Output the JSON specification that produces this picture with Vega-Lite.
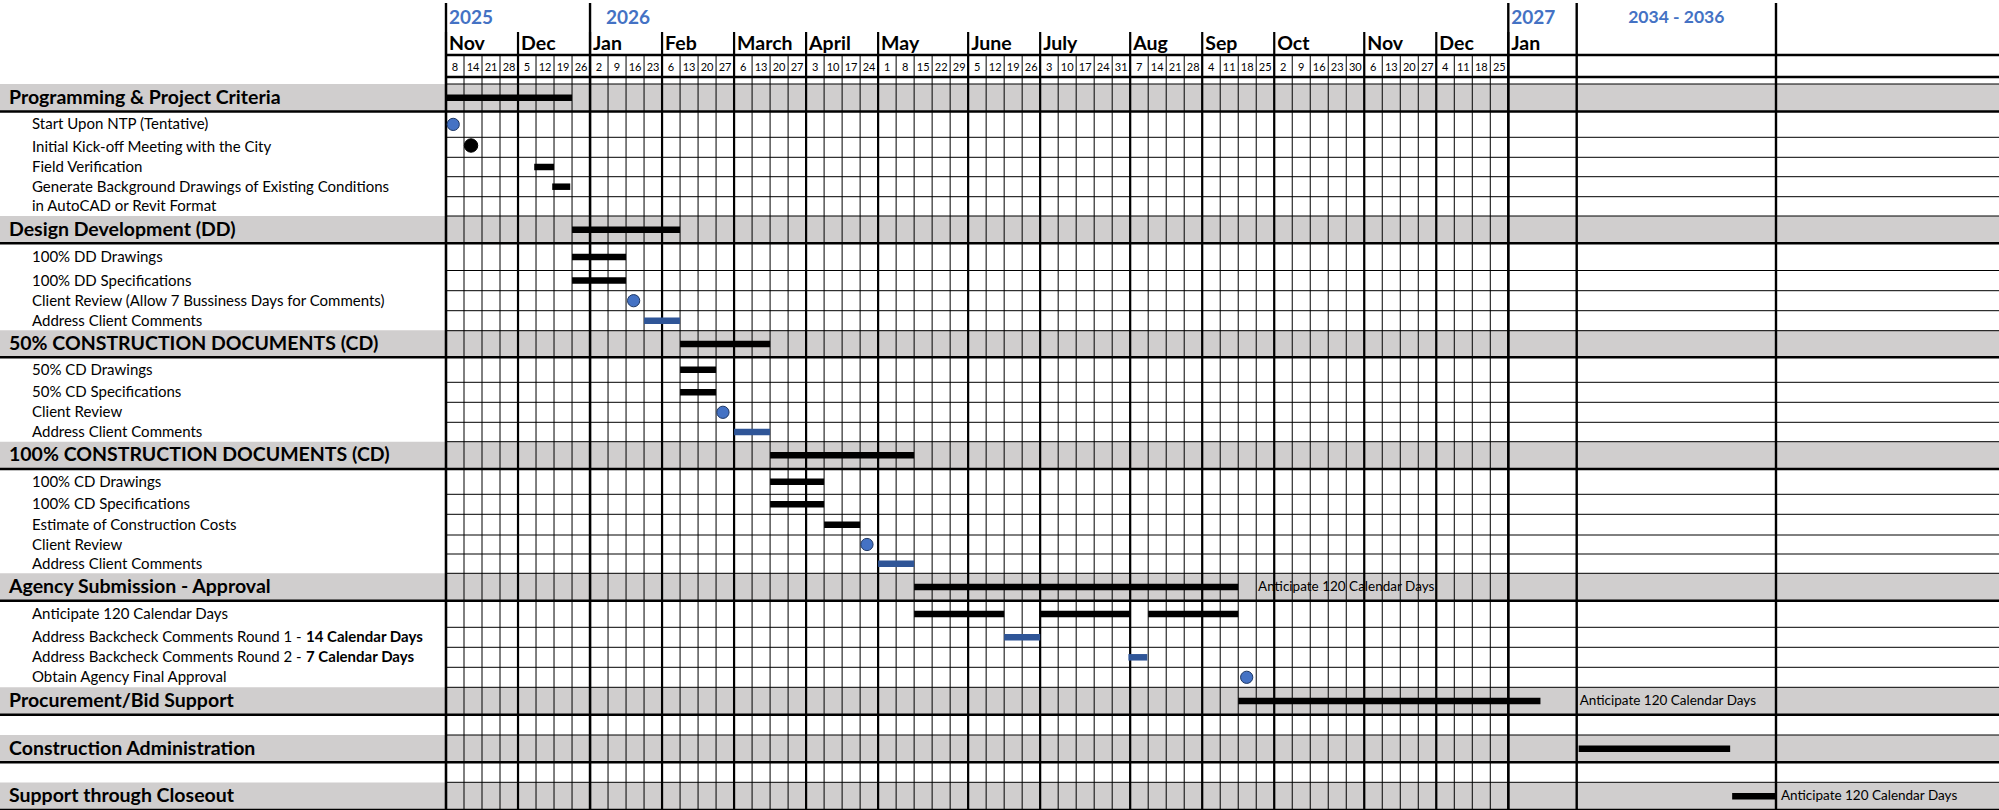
{
  "$schema": "https://vega.github.io/schema/vega-lite/v6.json",
  "width": 1999,
  "height": 810,
  "padding": 0,
  "autosize": {"type": "none"},
  "background": "white",
  "config": {"view": {"stroke": null}, "axis": {"disable": true}, "legend": {"disable": true}, "font": "Lato"},
  "resolve": {"scale": {"y": "independent"}},
  "datasets": {
    "weeks": [{"i":0,"w":"8"},{"i":1,"w":"14"},{"i":2,"w":"21"},{"i":3,"w":"28"},{"i":4,"w":"5"},{"i":5,"w":"12"},{"i":6,"w":"19"},{"i":7,"w":"26"},{"i":8,"w":"2"},{"i":9,"w":"9"},{"i":10,"w":"16"},{"i":11,"w":"23"},{"i":12,"w":"6"},{"i":13,"w":"13"},{"i":14,"w":"20"},{"i":15,"w":"27"},{"i":16,"w":"6"},{"i":17,"w":"13"},{"i":18,"w":"20"},{"i":19,"w":"27"},{"i":20,"w":"3"},{"i":21,"w":"10"},{"i":22,"w":"17"},{"i":23,"w":"24"},{"i":24,"w":"1"},{"i":25,"w":"8"},{"i":26,"w":"15"},{"i":27,"w":"22"},{"i":28,"w":"29"},{"i":29,"w":"5"},{"i":30,"w":"12"},{"i":31,"w":"19"},{"i":32,"w":"26"},{"i":33,"w":"3"},{"i":34,"w":"10"},{"i":35,"w":"17"},{"i":36,"w":"24"},{"i":37,"w":"31"},{"i":38,"w":"7"},{"i":39,"w":"14"},{"i":40,"w":"21"},{"i":41,"w":"28"},{"i":42,"w":"4"},{"i":43,"w":"11"},{"i":44,"w":"18"},{"i":45,"w":"25"},{"i":46,"w":"2"},{"i":47,"w":"9"},{"i":48,"w":"16"},{"i":49,"w":"23"},{"i":50,"w":"30"},{"i":51,"w":"6"},{"i":52,"w":"13"},{"i":53,"w":"20"},{"i":54,"w":"27"},{"i":55,"w":"4"},{"i":56,"w":"11"},{"i":57,"w":"18"},{"i":58,"w":"25"}],
    "months": [{"start":0,"m":"Nov"},{"start":4,"m":"Dec"},{"start":8,"m":"Jan"},{"start":12,"m":"Feb"},{"start":16,"m":"March"},{"start":20,"m":"April"},{"start":24,"m":"May"},{"start":29,"m":"June"},{"start":33,"m":"July"},{"start":38,"m":"Aug"},{"start":42,"m":"Sep"},{"start":46,"m":"Oct"},{"start":51,"m":"Nov"},{"start":55,"m":"Dec"},{"start":59,"m":"Jan"}],
    "years": [{"start":0,"y":"2025"},{"start":8,"y":"2026"},{"start":59,"y":"2027"},{"start":60,"y":"2034 - 2036"},{"start":61,"y":""}],
    "rows": [
      {"row":1,"level":"year"},{"row":2,"level":"month"},{"row":3,"level":"week"},{"row":4,"level":"spacer"},
      {"row":5,"level":"section","label":"Programming & Project Criteria"},
      {"row":6,"level":"task","label":"Start Upon NTP (Tentative)"},
      {"row":7,"level":"task","label":"Initial Kick-off Meeting with the City"},
      {"row":8,"level":"task","label":"Field Verification"},
      {"row":9,"level":"task","label":"Generate Background Drawings of Existing Conditions"},
      {"row":10,"level":"task","label":"in AutoCAD or Revit Format"},
      {"row":11,"level":"section","label":"Design Development (DD)"},
      {"row":12,"level":"task","label":"100% DD Drawings"},
      {"row":13,"level":"task","label":"100% DD Specifications"},
      {"row":14,"level":"task","label":"Client Review (Allow 7 Bussiness Days for Comments)"},
      {"row":15,"level":"task","label":"Address Client Comments"},
      {"row":16,"level":"section","label":"50% CONSTRUCTION DOCUMENTS (CD)"},
      {"row":17,"level":"task","label":"50% CD Drawings"},
      {"row":18,"level":"task","label":"50% CD Specifications"},
      {"row":19,"level":"task","label":"Client Review"},
      {"row":20,"level":"task","label":"Address Client Comments"},
      {"row":21,"level":"section","label":"100% CONSTRUCTION DOCUMENTS (CD)"},
      {"row":22,"level":"task","label":"100% CD Drawings"},
      {"row":23,"level":"task","label":"100% CD Specifications"},
      {"row":24,"level":"task","label":"Estimate of Construction Costs"},
      {"row":25,"level":"task","label":"Client Review"},
      {"row":26,"level":"task","label":"Address Client Comments"},
      {"row":27,"level":"section","label":"Agency Submission - Approval"},
      {"row":28,"level":"task","label":"Anticipate 120 Calendar Days"},
      {"row":29,"level":"task","label":"Address Backcheck Comments Round 1 -"},
      {"row":30,"level":"task","label":"Address Backcheck Comments Round 2 -"},
      {"row":31,"level":"task","label":"Obtain Agency Final Approval"},
      {"row":32,"level":"section","label":"Procurement/Bid Support"},
      {"row":33,"level":"blank","label":""},
      {"row":34,"level":"section","label":"Construction Administration"},
      {"row":35,"level":"blank","label":""},
      {"row":36,"level":"section","label":"Support through Closeout"}
    ],
    "tasks": [
      {"row":5,"start":0,"end":7,"kind":"work"},
      {"row":8,"start":4.9,"end":6,"kind":"work"},
      {"row":9,"start":5.9,"end":6.9,"kind":"work"},
      {"row":11,"start":7,"end":13,"kind":"work"},
      {"row":12,"start":7,"end":10,"kind":"work"},
      {"row":13,"start":7,"end":10,"kind":"work"},
      {"row":15,"start":11,"end":13,"kind":"revision"},
      {"row":16,"start":13,"end":18,"kind":"work"},
      {"row":17,"start":13,"end":15,"kind":"work"},
      {"row":18,"start":13,"end":15,"kind":"work"},
      {"row":20,"start":16,"end":18,"kind":"revision"},
      {"row":21,"start":18,"end":26,"kind":"work"},
      {"row":22,"start":18,"end":21,"kind":"work"},
      {"row":23,"start":18,"end":21,"kind":"work"},
      {"row":24,"start":21,"end":23,"kind":"work"},
      {"row":26,"start":24,"end":26,"kind":"revision"},
      {"row":27,"start":26,"end":44,"kind":"work"},
      {"row":28,"start":26,"end":31,"kind":"work"},
      {"row":28,"start":33,"end":38,"kind":"work"},
      {"row":28,"start":39,"end":44,"kind":"work"},
      {"row":29,"start":31,"end":33,"kind":"revision"},
      {"row":30,"start":37.9,"end":38.95,"kind":"revision"},
      {"row":32,"start":44,"end":59.47,"kind":"work"},
      {"row":34,"start":60.01,"end":60.77,"kind":"work"},
      {"row":36,"start":60.78,"end":61,"kind":"work"}
    ],
    "milestones": [
      {"row":6,"at":0.4,"kind":"review"},
      {"row":7,"at":1.39,"kind":"meeting"},
      {"row":14,"at":10.42,"kind":"review"},
      {"row":19,"at":15.38,"kind":"review"},
      {"row":25,"at":23.38,"kind":"review"},
      {"row":31,"at":44.47,"kind":"review"}
    ],
    "notes": [
      {"row":27,"at":45.1,"note":"Anticipate 120 Calendar Days"},
      {"row":32,"at":60.015,"note":"Anticipate 120 Calendar Days"},
      {"row":36,"at":61.022,"note":"Anticipate 120 Calendar Days"}
    ],
    "emph": [
      {"row":29,"text":"14 Calendar Days"},
      {"row":30,"text":"7 Calendar Days"}
    ]
  },
  "layer": [
    {
      "data": {"name": "rows"},
      "transform": [{"filter": "datum.level === 'section'"}],
      "mark": {"type": "rule", "color": "#D0CECE", "strokeWidth": 27.4},
      "encoding": {
        "x": {"datum": -1, "type": "quantitative", "scale": {"domain": [-1,0,59,60,61,62], "range": [0,446,1508.3,1576.7,1776,1999], "nice": false, "zero": false}},
        "x2": {"datum": 62},
        "y": {"field": "row", "type": "quantitative", "scale": {"domain": [1,2,3,4,5,6,7,8,9,10,11,12,13,14,15,16,17,18,19,20,21,22,23,24,25,26,27,28,29,30,31,32,33,34,35,36], "range": [17.5,43.5,66,80.5,97.75,124.4,147.3,167,186.7,206.35,229.65,256.9,280.6,300.7,320.7,344,369.8,392.3,412.3,432,455.35,481.65,504.3,524.65,544.5,563.65,587,614,637.3,657.3,677.3,701,724.85,748.65,772.3,796.15], "nice": false, "zero": false}}
      }
    },
    {
      "data": {"name": "weeks"},
      "transform": [{"filter": "datum.i > 0"}],
      "mark": {"type": "rule", "color": "#000000", "strokeWidth": 1},
      "encoding": {
        "x": {"field": "i", "type": "quantitative", "scale": {"domain": [-1,0,59,60,61,62], "range": [0,446,1508.3,1576.7,1776,1999], "nice": false, "zero": false}},
        "y": {"datum": 2, "type": "quantitative", "scale": {"domain": [0,1,2,3,4,5,6,7,8,9,10,11,12,13,14,15,16,17,18,19,20,21,22,23,24,25,26,27,28,29,30,31,32,33,34,35,36], "range": [3,32,55,77,84,111.5,137.3,157.3,176.7,196.7,216,243.3,270.5,290.7,310.7,330.7,357.3,382.3,402.3,422.3,441.7,469,494.3,514.3,535,554,573.3,600.7,627.3,647.3,667.3,687.3,714.7,735,762.3,782.3,810], "nice": false, "zero": false}},
        "y2": {"datum": 36}
      }
    },
    {
      "data": {"name": "rows"},
      "transform": [{"filter": "datum.level === 'spacer' || datum.level === 'task' || datum.level === 'blank'"}],
      "mark": {"type": "rule", "color": "#000000", "strokeWidth": 1},
      "encoding": {
        "x": {"datum": 0, "type": "quantitative", "scale": {"domain": [-1,0,59,60,61,62], "range": [0,446,1508.3,1576.7,1776,1999], "nice": false, "zero": false}},
        "x2": {"datum": 62},
        "y": {"field": "row", "type": "quantitative", "scale": {"domain": [0,1,2,3,4,5,6,7,8,9,10,11,12,13,14,15,16,17,18,19,20,21,22,23,24,25,26,27,28,29,30,31,32,33,34,35,36], "range": [3,32,55,77,84,111.5,137.3,157.3,176.7,196.7,216,243.3,270.5,290.7,310.7,330.7,357.3,382.3,402.3,422.3,441.7,469,494.3,514.3,535,554,573.3,600.7,627.3,647.3,667.3,687.3,714.7,735,762.3,782.3,810], "nice": false, "zero": false}}
      }
    },
    {
      "data": {"name": "months"},
      "mark": {"type": "rule", "color": "#000000", "strokeWidth": 2.2},
      "encoding": {
        "x": {"field": "start", "type": "quantitative", "scale": {"domain": [-1,0,59,60,61,62], "range": [0,446,1508.3,1576.7,1776,1999], "nice": false, "zero": false}},
        "y": {"datum": 1, "type": "quantitative", "scale": {"domain": [0,1,2,3,4,5,6,7,8,9,10,11,12,13,14,15,16,17,18,19,20,21,22,23,24,25,26,27,28,29,30,31,32,33,34,35,36], "range": [3,32,55,77,84,111.5,137.3,157.3,176.7,196.7,216,243.3,270.5,290.7,310.7,330.7,357.3,382.3,402.3,422.3,441.7,469,494.3,514.3,535,554,573.3,600.7,627.3,647.3,667.3,687.3,714.7,735,762.3,782.3,810], "nice": false, "zero": false}},
        "y2": {"datum": 36}
      }
    },
    {
      "data": {"name": "years"},
      "mark": {"type": "rule", "color": "#000000", "strokeWidth": 2.4},
      "encoding": {
        "x": {"field": "start", "type": "quantitative", "scale": {"domain": [-1,0,59,60,61,62], "range": [0,446,1508.3,1576.7,1776,1999], "nice": false, "zero": false}},
        "y": {"datum": 0, "type": "quantitative", "scale": {"domain": [0,1,2,3,4,5,6,7,8,9,10,11,12,13,14,15,16,17,18,19,20,21,22,23,24,25,26,27,28,29,30,31,32,33,34,35,36], "range": [3,32,55,77,84,111.5,137.3,157.3,176.7,196.7,216,243.3,270.5,290.7,310.7,330.7,357.3,382.3,402.3,422.3,441.7,469,494.3,514.3,535,554,573.3,600.7,627.3,647.3,667.3,687.3,714.7,735,762.3,782.3,810], "nice": false, "zero": false}},
        "y2": {"datum": 36}
      }
    },
    {
      "data": {"name": "rows"},
      "transform": [{"filter": "datum.level === 'month' || datum.level === 'week'"}],
      "mark": {"type": "rule", "color": "#000000", "strokeWidth": 2.4},
      "encoding": {
        "x": {"datum": 0, "type": "quantitative", "scale": {"domain": [-1,0,59,60,61,62], "range": [0,446,1508.3,1576.7,1776,1999], "nice": false, "zero": false}},
        "x2": {"datum": 62},
        "y": {"field": "row", "type": "quantitative", "scale": {"domain": [0,1,2,3,4,5,6,7,8,9,10,11,12,13,14,15,16,17,18,19,20,21,22,23,24,25,26,27,28,29,30,31,32,33,34,35,36], "range": [3,32,55,77,84,111.5,137.3,157.3,176.7,196.7,216,243.3,270.5,290.7,310.7,330.7,357.3,382.3,402.3,422.3,441.7,469,494.3,514.3,535,554,573.3,600.7,627.3,647.3,667.3,687.3,714.7,735,762.3,782.3,810], "nice": false, "zero": false}}
      }
    },
    {
      "mark": {"type": "rule", "color": "#000000", "strokeWidth": 2.4},
      "encoding": {
        "x": {"datum": 0, "type": "quantitative", "scale": {"domain": [-1,0,59,60,61,62], "range": [0,446,1508.3,1576.7,1776,1999], "nice": false, "zero": false}},
        "x2": {"datum": 62},
        "y": {"datum": 0, "type": "quantitative", "scale": {"domain": [0,1,2,3,4,5,6,7,8,9,10,11,12,13,14,15,16,17,18,19,20,21,22,23,24,25,26,27,28,29,30,31,32,33,34,35,36], "range": [3,32,55,77,84,111.5,137.3,157.3,176.7,196.7,216,243.3,270.5,290.7,310.7,330.7,357.3,382.3,402.3,422.3,441.7,469,494.3,514.3,535,554,573.3,600.7,627.3,647.3,667.3,687.3,714.7,735,762.3,782.3,810], "nice": false, "zero": false}}
      }
    },
    {
      "data": {"name": "rows"},
      "transform": [{"filter": "datum.level === 'section'"}],
      "mark": {"type": "rule", "color": "#000000", "strokeWidth": 2.6},
      "encoding": {
        "x": {"datum": -1, "type": "quantitative", "scale": {"domain": [-1,0,59,60,61,62], "range": [0,446,1508.3,1576.7,1776,1999], "nice": false, "zero": false}},
        "x2": {"datum": 62},
        "y": {"field": "row", "type": "quantitative", "scale": {"domain": [0,1,2,3,4,5,6,7,8,9,10,11,12,13,14,15,16,17,18,19,20,21,22,23,24,25,26,27,28,29,30,31,32,33,34,35,36], "range": [3,32,55,77,84,111.5,137.3,157.3,176.7,196.7,216,243.3,270.5,290.7,310.7,330.7,357.3,382.3,402.3,422.3,441.7,469,494.3,514.3,535,554,573.3,600.7,627.3,647.3,667.3,687.3,714.7,735,762.3,782.3,810], "nice": false, "zero": false}}
      }
    },
    {
      "mark": {"type": "rule", "color": "#000000", "strokeWidth": 4},
      "encoding": {
        "x": {"datum": -1, "type": "quantitative", "scale": {"domain": [-1,0,59,60,61,62], "range": [0,446,1508.3,1576.7,1776,1999], "nice": false, "zero": false}},
        "y": {"datum": 4, "type": "quantitative", "scale": {"domain": [0,1,2,3,4,5,6,7,8,9,10,11,12,13,14,15,16,17,18,19,20,21,22,23,24,25,26,27,28,29,30,31,32,33,34,35,36], "range": [3,32,55,77,84,111.5,137.3,157.3,176.7,196.7,216,243.3,270.5,290.7,310.7,330.7,357.3,382.3,402.3,422.3,441.7,469,494.3,514.3,535,554,573.3,600.7,627.3,647.3,667.3,687.3,714.7,735,762.3,782.3,810], "nice": false, "zero": false}},
        "y2": {"datum": 36}
      }
    },
    {
      "data": {"name": "tasks"},
      "mark": {"type": "rule", "strokeWidth": 6.5},
      "encoding": {
        "x": {"field": "start", "type": "quantitative", "scale": {"domain": [-1,0,59,60,61,62], "range": [0,446,1508.3,1576.7,1776,1999], "nice": false, "zero": false}},
        "x2": {"field": "end"},
        "y": {"field": "row", "type": "quantitative", "scale": {"domain": [1,2,3,4,5,6,7,8,9,10,11,12,13,14,15,16,17,18,19,20,21,22,23,24,25,26,27,28,29,30,31,32,33,34,35,36], "range": [17.5,43.5,66,80.5,97.75,124.4,147.3,167,186.7,206.35,229.65,256.9,280.6,300.7,320.7,344,369.8,392.3,412.3,432,455.35,481.65,504.3,524.65,544.5,563.65,587,614,637.3,657.3,677.3,701,724.85,748.65,772.3,796.15], "nice": false, "zero": false}},
        "color": {"field": "kind", "type": "nominal", "scale": {"domain": ["work","revision","review","meeting"], "range": ["#000000","#2F5597","#4472C4","#000000"]}}
      }
    },
    {
      "data": {"name": "milestones"},
      "transform": [{"filter": "datum.kind === 'review'"}],
      "mark": {"type": "point", "shape": "circle", "filled": true, "opacity": 1, "size": 150, "stroke": "#1F3864", "strokeWidth": 1},
      "encoding": {
        "x": {"field": "at", "type": "quantitative", "scale": {"domain": [-1,0,59,60,61,62], "range": [0,446,1508.3,1576.7,1776,1999], "nice": false, "zero": false}},
        "y": {"field": "row", "type": "quantitative", "scale": {"domain": [1,2,3,4,5,6,7,8,9,10,11,12,13,14,15,16,17,18,19,20,21,22,23,24,25,26,27,28,29,30,31,32,33,34,35,36], "range": [17.5,43.5,66,80.5,97.75,124.4,147.3,167,186.7,206.35,229.65,256.9,280.6,300.7,320.7,344,369.8,392.3,412.3,432,455.35,481.65,504.3,524.65,544.5,563.65,587,614,637.3,657.3,677.3,701,724.85,748.65,772.3,796.15], "nice": false, "zero": false}},
        "color": {"field": "kind", "type": "nominal", "scale": {"domain": ["work","revision","review","meeting"], "range": ["#000000","#2F5597","#4472C4","#000000"]}}
      }
    },
    {
      "data": {"name": "milestones"},
      "transform": [{"filter": "datum.kind === 'meeting'"}],
      "mark": {"type": "point", "shape": "circle", "filled": true, "opacity": 1, "size": 180, "stroke": "#000000", "strokeWidth": 1},
      "encoding": {
        "x": {"field": "at", "type": "quantitative", "scale": {"domain": [-1,0,59,60,61,62], "range": [0,446,1508.3,1576.7,1776,1999], "nice": false, "zero": false}},
        "y": {"field": "row", "type": "quantitative", "scale": {"domain": [1,2,3,4,5,6,7,8,9,10,11,12,13,14,15,16,17,18,19,20,21,22,23,24,25,26,27,28,29,30,31,32,33,34,35,36], "range": [17.5,43.5,66,80.5,97.75,124.4,145.5,167,186.7,206.35,229.65,256.9,280.6,300.7,320.7,344,369.8,392.3,412.3,432,455.35,481.65,504.3,524.65,544.5,563.65,587,614,637.3,657.3,677.3,701,724.85,748.65,772.3,796.15], "nice": false, "zero": false}},
        "color": {"field": "kind", "type": "nominal", "scale": {"domain": ["work","revision","review","meeting"], "range": ["#000000","#2F5597","#4472C4","#000000"]}}
      }
    },
    {
      "data": {"name": "rows"},
      "transform": [{"filter": "datum.level === 'section'"}],
      "mark": {"type": "text", "align": "left", "baseline": "middle", "dx": 9, "fontSize": 19.5, "fontWeight": "bold", "color": "#000000"},
      "encoding": {
        "x": {"datum": -1, "type": "quantitative", "scale": {"domain": [-1,0,59,60,61,62], "range": [0,446,1508.3,1576.7,1776,1999], "nice": false, "zero": false}},
        "y": {"field": "row", "type": "quantitative", "scale": {"domain": [1,2,3,4,5,6,7,8,9,10,11,12,13,14,15,16,17,18,19,20,21,22,23,24,25,26,27,28,29,30,31,32,33,34,35,36], "range": [17.5,43.5,66,80.5,97.75,124.4,147.3,167,186.7,206.35,229.65,256.9,280.6,300.7,320.7,344,369.8,392.3,412.3,432,455.35,481.65,504.3,524.65,544.5,563.65,587,614,637.3,657.3,677.3,701,724.85,748.65,772.3,796.15], "nice": false, "zero": false}},
        "text": {"field": "label"}
      }
    },
    {
      "data": {"name": "rows"},
      "transform": [{"filter": "datum.level === 'task'"}],
      "mark": {"type": "text", "align": "left", "baseline": "middle", "dx": 32, "fontSize": 15, "color": "#000000"},
      "encoding": {
        "x": {"datum": -1, "type": "quantitative", "scale": {"domain": [-1,0,59,60,61,62], "range": [0,446,1508.3,1576.7,1776,1999], "nice": false, "zero": false}},
        "y": {"field": "row", "type": "quantitative", "scale": {"domain": [1,2,3,4,5,6,7,8,9,10,11,12,13,14,15,16,17,18,19,20,21,22,23,24,25,26,27,28,29,30,31,32,33,34,35,36], "range": [17.5,43.5,66,80.5,97.75,124.4,147.3,167,186.7,206.35,229.65,256.9,280.6,300.7,320.7,344,369.8,392.3,412.3,432,455.35,481.65,504.3,524.65,544.5,563.65,587,614,637.3,657.3,677.3,701,724.85,748.65,772.3,796.15], "nice": false, "zero": false}},
        "text": {"field": "label"}
      }
    },
    {
      "data": {"name": "emph"},
      "mark": {"type": "text", "align": "left", "baseline": "middle", "dx": 306, "fontSize": 15, "fontWeight": "bold", "color": "#000000"},
      "encoding": {
        "x": {"datum": -1, "type": "quantitative", "scale": {"domain": [-1,0,59,60,61,62], "range": [0,446,1508.3,1576.7,1776,1999], "nice": false, "zero": false}},
        "y": {"field": "row", "type": "quantitative", "scale": {"domain": [1,2,3,4,5,6,7,8,9,10,11,12,13,14,15,16,17,18,19,20,21,22,23,24,25,26,27,28,29,30,31,32,33,34,35,36], "range": [17.5,43.5,66,80.5,97.75,124.4,147.3,167,186.7,206.35,229.65,256.9,280.6,300.7,320.7,344,369.8,392.3,412.3,432,455.35,481.65,504.3,524.65,544.5,563.65,587,614,637.3,657.3,677.3,701,724.85,748.65,772.3,796.15], "nice": false, "zero": false}},
        "text": {"field": "text"}
      }
    },
    {
      "data": {"name": "notes"},
      "mark": {"type": "text", "align": "left", "baseline": "middle", "fontSize": 13.5, "color": "#000000"},
      "encoding": {
        "x": {"field": "at", "type": "quantitative", "scale": {"domain": [-1,0,59,60,61,62], "range": [0,446,1508.3,1576.7,1776,1999], "nice": false, "zero": false}},
        "y": {"field": "row", "type": "quantitative", "scale": {"domain": [1,2,3,4,5,6,7,8,9,10,11,12,13,14,15,16,17,18,19,20,21,22,23,24,25,26,27,28,29,30,31,32,33,34,35,36], "range": [17.5,43.5,66,80.5,97.75,124.4,147.3,167,186.7,206.35,229.65,256.9,280.6,300.7,320.7,344,369.8,392.3,412.3,432,455.35,481.65,504.3,524.65,544.5,563.65,587,614,637.3,657.3,677.3,701,724.85,748.65,772.3,796.15], "nice": false, "zero": false}},
        "text": {"field": "note"}
      }
    },
    {
      "data": {"name": "years"},
      "transform": [{"filter": "datum.start === 0 || datum.start === 59"}],
      "mark": {"type": "text", "align": "left", "baseline": "middle", "dx": 3, "fontSize": 19, "fontWeight": "bold", "color": "#4472C4"},
      "encoding": {
        "x": {"field": "start", "type": "quantitative", "scale": {"domain": [-1,0,59,60,61,62], "range": [0,446,1508.3,1576.7,1776,1999], "nice": false, "zero": false}},
        "y": {"datum": 1, "type": "quantitative", "scale": {"domain": [1,2,3,4,5,6,7,8,9,10,11,12,13,14,15,16,17,18,19,20,21,22,23,24,25,26,27,28,29,30,31,32,33,34,35,36], "range": [17.5,43.5,66,80.5,97.75,124.4,147.3,167,186.7,206.35,229.65,256.9,280.6,300.7,320.7,344,369.8,392.3,412.3,432,455.35,481.65,504.3,524.65,544.5,563.65,587,614,637.3,657.3,677.3,701,724.85,748.65,772.3,796.15], "nice": false, "zero": false}},
        "text": {"field": "y"}
      }
    },
    {
      "data": {"name": "years"},
      "transform": [{"filter": "datum.start === 8"}],
      "mark": {"type": "text", "align": "left", "baseline": "middle", "dx": 16, "fontSize": 19, "fontWeight": "bold", "color": "#4472C4"},
      "encoding": {
        "x": {"field": "start", "type": "quantitative", "scale": {"domain": [-1,0,59,60,61,62], "range": [0,446,1508.3,1576.7,1776,1999], "nice": false, "zero": false}},
        "y": {"datum": 1, "type": "quantitative", "scale": {"domain": [1,2,3,4,5,6,7,8,9,10,11,12,13,14,15,16,17,18,19,20,21,22,23,24,25,26,27,28,29,30,31,32,33,34,35,36], "range": [17.5,43.5,66,80.5,97.75,124.4,147.3,167,186.7,206.35,229.65,256.9,280.6,300.7,320.7,344,369.8,392.3,412.3,432,455.35,481.65,504.3,524.65,544.5,563.65,587,614,637.3,657.3,677.3,701,724.85,748.65,772.3,796.15], "nice": false, "zero": false}},
        "text": {"field": "y"}
      }
    },
    {
      "data": {"name": "years"},
      "transform": [{"filter": "datum.start === 60"}],
      "mark": {"type": "text", "align": "center", "baseline": "middle", "dx": 99.6, "fontSize": 17.5, "fontWeight": "bold", "color": "#4472C4"},
      "encoding": {
        "x": {"field": "start", "type": "quantitative", "scale": {"domain": [-1,0,59,60,61,62], "range": [0,446,1508.3,1576.7,1776,1999], "nice": false, "zero": false}},
        "y": {"datum": 1, "type": "quantitative", "scale": {"domain": [1,2,3,4,5,6,7,8,9,10,11,12,13,14,15,16,17,18,19,20,21,22,23,24,25,26,27,28,29,30,31,32,33,34,35,36], "range": [17.5,43.5,66,80.5,97.75,124.4,147.3,167,186.7,206.35,229.65,256.9,280.6,300.7,320.7,344,369.8,392.3,412.3,432,455.35,481.65,504.3,524.65,544.5,563.65,587,614,637.3,657.3,677.3,701,724.85,748.65,772.3,796.15], "nice": false, "zero": false}},
        "text": {"field": "y"}
      }
    },
    {
      "data": {"name": "months"},
      "mark": {"type": "text", "align": "left", "baseline": "middle", "dx": 3, "fontSize": 19.5, "fontWeight": "bold", "color": "#000000"},
      "encoding": {
        "x": {"field": "start", "type": "quantitative", "scale": {"domain": [-1,0,59,60,61,62], "range": [0,446,1508.3,1576.7,1776,1999], "nice": false, "zero": false}},
        "y": {"datum": 2, "type": "quantitative", "scale": {"domain": [1,2,3,4,5,6,7,8,9,10,11,12,13,14,15,16,17,18,19,20,21,22,23,24,25,26,27,28,29,30,31,32,33,34,35,36], "range": [17.5,43.5,66,80.5,97.75,124.4,147.3,167,186.7,206.35,229.65,256.9,280.6,300.7,320.7,344,369.8,392.3,412.3,432,455.35,481.65,504.3,524.65,544.5,563.65,587,614,637.3,657.3,677.3,701,724.85,748.65,772.3,796.15], "nice": false, "zero": false}},
        "text": {"field": "m"}
      }
    },
    {
      "data": {"name": "weeks"},
      "mark": {"type": "text", "align": "center", "baseline": "middle", "dx": 9, "dy": 2, "fontSize": 11, "color": "#000000"},
      "encoding": {
        "x": {"field": "i", "type": "quantitative", "scale": {"domain": [-1,0,59,60,61,62], "range": [0,446,1508.3,1576.7,1776,1999], "nice": false, "zero": false}},
        "y": {"datum": 3, "type": "quantitative", "scale": {"domain": [1,2,3,4,5,6,7,8,9,10,11,12,13,14,15,16,17,18,19,20,21,22,23,24,25,26,27,28,29,30,31,32,33,34,35,36], "range": [17.5,43.5,66,80.5,97.75,124.4,147.3,167,186.7,206.35,229.65,256.9,280.6,300.7,320.7,344,369.8,392.3,412.3,432,455.35,481.65,504.3,524.65,544.5,563.65,587,614,637.3,657.3,677.3,701,724.85,748.65,772.3,796.15], "nice": false, "zero": false}},
        "text": {"field": "w"}
      }
    }
  ]
}
